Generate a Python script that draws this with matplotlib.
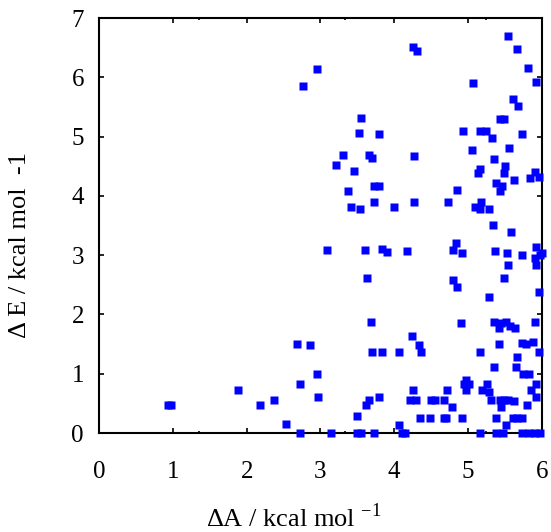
import matplotlib
matplotlib.use("Agg")
import matplotlib.pyplot as plt

plt.rcParams['font.family'] = ['Liberation Serif', 'DejaVu Serif']
plt.rcParams['mathtext.fontset'] = 'custom'
plt.rcParams['mathtext.rm'] = 'Liberation Serif'

# free energy difference (x) and energy difference (y), kcal/mol
dA = [0.93, 0.98, 1.88, 2.18, 2.37, 2.53, 2.68, 2.86, 2.72, 2.73, 2.95, 2.97,
      2.77, 2.95, 4.25, 4.31, 3.55, 3.53, 3.80, 3.31, 3.66, 3.70, 4.27,
      3.21, 3.45, 3.38, 3.72, 3.79, 3.41, 3.54, 3.72, 4.00, 4.27,
      5.55, 5.67, 5.82, 5.07, 5.93, 5.61, 5.68, 5.44, 5.49,
      4.94, 5.17, 5.24, 5.74, 5.33, 5.56, 5.05, 5.35, 5.50,
      5.17, 5.14, 5.49, 5.91, 5.63, 5.84, 5.97, 5.38, 5.46, 5.44, 4.85,
      4.73, 5.18, 5.09, 5.17, 5.28, 5.34, 5.59,
      3.09, 3.60, 3.83, 3.90, 4.17, 3.63, 3.68, 4.24, 4.34, 4.37,
      3.70, 3.84, 4.06, 4.25, 3.66, 3.62, 3.80, 4.22, 4.30, 4.50,
      3.49, 4.07, 4.35, 4.48,
      4.84, 4.80, 4.92, 5.37, 5.53, 5.73, 5.93, 5.91, 5.98, 6.00,
      5.54, 5.93, 5.49, 4.80, 4.85, 5.97, 5.29,
      4.90, 5.36, 5.42, 5.45, 5.52, 5.57, 5.64, 5.91,
      5.42, 5.74, 5.79, 5.88, 5.17, 5.97, 5.67, 5.36, 5.65, 5.75, 5.83,
      4.98, 4.95, 5.02, 4.98, 4.71, 5.26, 5.19, 5.28, 5.93, 5.86,
      4.55, 4.68, 5.31, 5.43, 5.49, 5.55, 5.62, 5.92, 4.78, 5.45, 5.80,
      4.67, 4.70, 4.92, 5.38, 5.61, 5.67, 5.74, 5.52,
      3.14, 3.49, 3.55, 3.73, 4.10, 4.15, 5.16, 5.38, 5.48, 5.74, 5.83, 5.91, 5.98]
dE = [0.47, 0.47, 0.72, 0.47, 0.56, 0.15, 1.50, 1.48, 0.00, 0.82, 1.00, 0.60,
      5.86, 6.14, 6.51, 6.45, 5.32, 5.06, 5.04, 4.69, 4.69, 4.64, 4.68,
      4.53, 4.42, 4.09, 4.16, 4.17, 3.82, 3.78, 3.89, 3.82, 3.89,
      6.70, 6.48, 6.16, 5.90, 5.92, 5.63, 5.52, 5.30, 5.30,
      5.10, 5.10, 5.10, 5.05, 4.97, 4.81, 4.78, 4.63, 4.50,
      4.45, 4.39, 4.39, 4.40, 4.27, 4.30, 4.32, 4.21, 4.17, 4.09, 4.10,
      3.89, 3.89, 3.82, 3.78, 3.78, 3.51, 3.39,
      3.09, 3.09, 3.10, 3.06, 3.07, 2.62, 1.87, 1.64, 1.49, 1.37,
      1.36, 1.37, 1.36, 0.72, 0.56, 0.47, 0.60, 0.56, 0.56, 0.56,
      0.28, 0.14, 0.26, 0.26,
      3.21, 3.09, 3.04, 3.07, 3.04, 3.00, 3.14, 2.96, 3.00, 3.04,
      2.83, 2.83, 2.62, 2.58, 2.46, 2.38, 2.29,
      1.86, 1.88, 1.78, 1.86, 1.88, 1.80, 1.78, 1.88,
      1.50, 1.52, 1.50, 1.53, 1.37, 1.37, 1.28, 1.11, 1.11, 1.00, 1.00,
      0.89, 0.82, 0.82, 0.73, 0.73, 0.82, 0.73, 0.70, 0.82, 0.73,
      0.56, 0.56, 0.56, 0.56, 0.56, 0.56, 0.54, 0.60, 0.44, 0.44, 0.47,
      0.26, 0.26, 0.26, 0.26, 0.26, 0.26, 0.26, 0.14,
      0.00, 0.00, 0.00, 0.00, 0.00, 0.00, 0.00, 0.00, 0.00, 0.00, 0.00, 0.00, 0.00]

x_ticks = [0, 1, 2, 3, 4, 5, 6]
y_ticks = [0, 1, 2, 3, 4, 5, 6, 7]
x_minor = [1.35, 3.33, 5.25]

fig = plt.figure(figsize=(5.51, 5.32), dpi=100)
ax = fig.add_axes([0.180, 0.186, 0.803, 0.780])

ax.plot(dA, dE, 's', color='#0000ff', ms=5.2, mec='none', clip_on=False, zorder=3)

ax.set_xlim(0, 6)
ax.set_ylim(0, 7)
ax.set_xticks(x_ticks)
ax.set_yticks(y_ticks)
ax.set_xticks(x_minor, minor=True)

for s in ax.spines.values():
    s.set_linewidth(1.5)
ax.tick_params(which='both', direction='in', top=True, right=True, labelsize=18, width=1.2)
ax.tick_params(which='major', length=3.5)
ax.tick_params(which='minor', length=1.5)
ax.tick_params(axis='x', pad=20)
ax.tick_params(axis='y', pad=11)

ax.set_xlabel('ΔA / kcal mol $^{-1}$', fontsize=19)
ax.xaxis.set_label_coords(0.44, -0.17)
ax.set_ylabel('Δ E / kcal mol  -1', fontsize=19)
ax.yaxis.set_label_coords(-0.155, 0.453)

fig.savefig('out.png', dpi=100)
